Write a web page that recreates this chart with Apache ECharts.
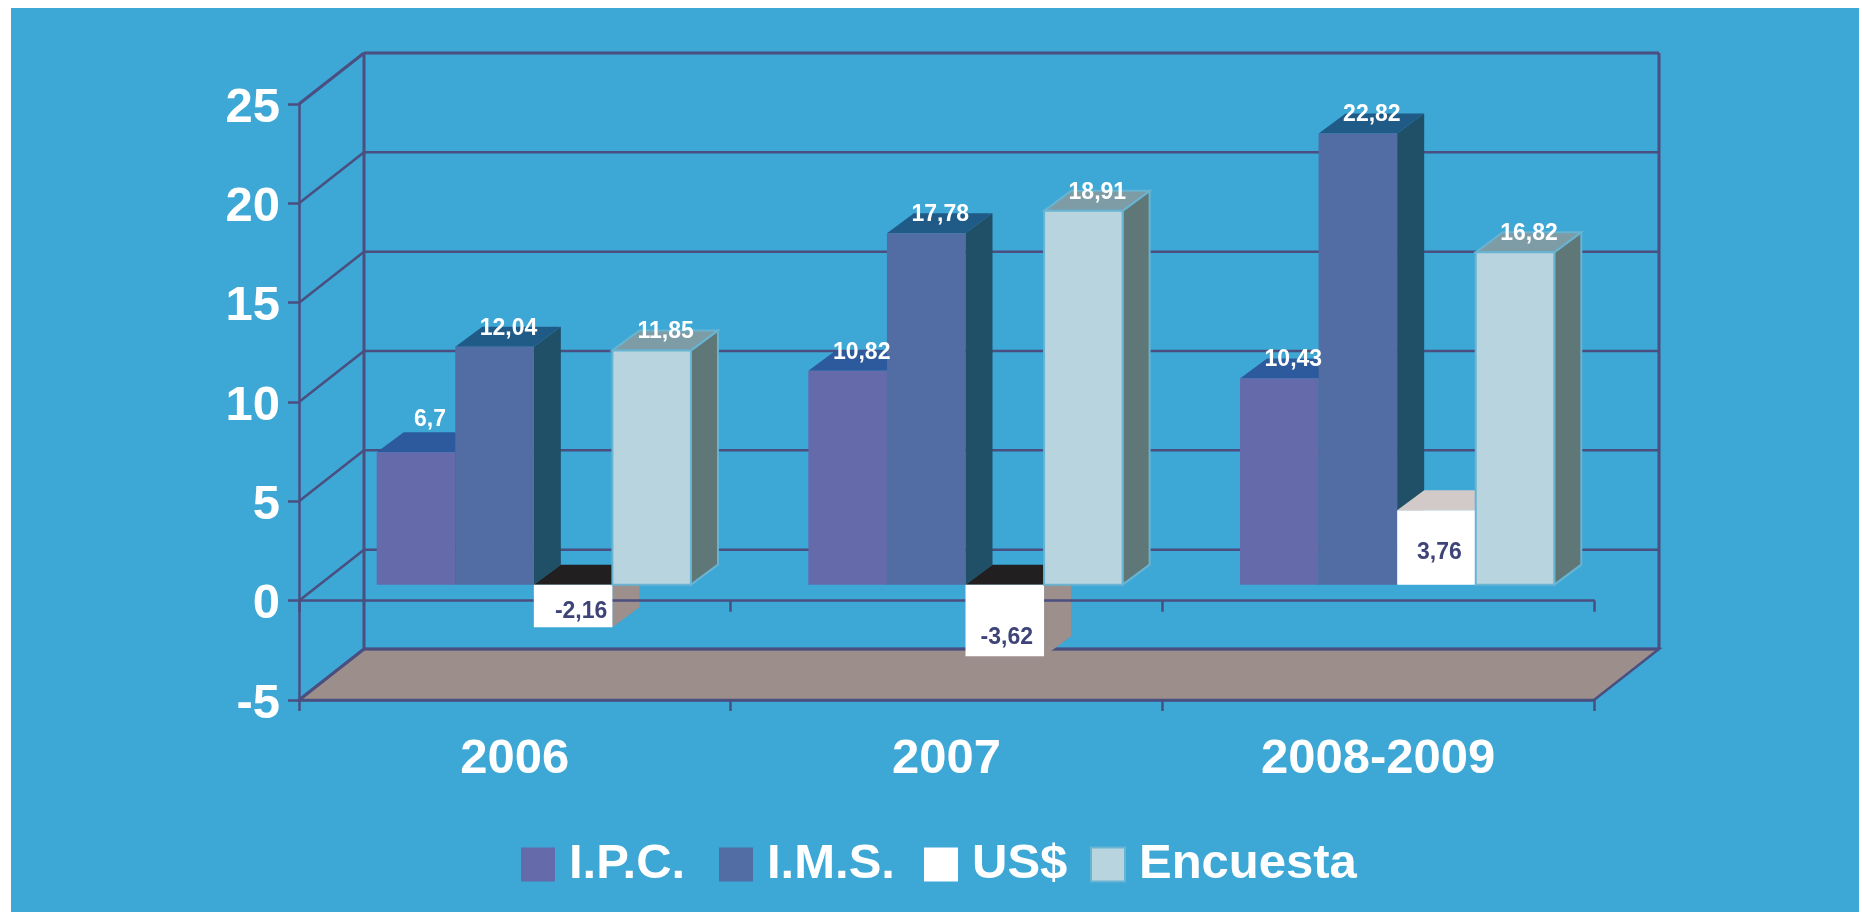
<!DOCTYPE html>
<html>
<head>
<meta charset="utf-8">
<script src="https://cdn.jsdelivr.net/npm/echarts@6/dist/echarts.min.js"></script>
<style>
  html, body { margin: 0; height: 100%; background: #fff; overflow: hidden; }
  #panel { position: absolute; left: 11px; top: 8px; right: 3px; bottom: 0; background: #3da7d6; }
  #chart { position: absolute; left: 0; top: 0; width: 1862px; height: 912px; }
</style>
</head>
<body>
<div id="panel"></div>
<div id="chart"></div>
<script>
const categories = ['2006', '2007', '2008-2009'];
const seriesNames = ['I.P.C.', 'I.M.S.', 'US$', 'Encuesta'];
const ipc = [6.7, 10.82, 10.43];
const ims = [12.04, 17.78, 22.82];
const usd = [-2.16, -3.62, 3.76];
const encuesta = [11.85, 18.91, 16.82];
const yTicks = [-5, 0, 5, 10, 15, 20, 25];

const lineColor = '#4a4f80';
const font = 'Liberation Sans, Arial, sans-serif';

// fake 3d: offsets of the back wall, the bar plane and the bar depth
const wallDx = 65, wallDy = -51;
const planeDx = 19, planeDy = -16, planeScale = 0.995;
const barDx = 27, barDy = -20;
const barShare = 0.182;

const faces = [
  { front: '#656aab', top: '#2c5a9c', side: '#1f5068' },
  { front: '#516da3', top: '#205b88', side: '#1f5068' },
  { front: '#ffffff', top: '#d2cac8', topNeg: '#211f1f', side: '#9d8f8b' },
  { front: '#b8d4df', top: '#7d9ca6', side: '#5f7776', stroke: '#68b4d2' }
];
const allValues = [ipc, ims, usd, encuesta];
// hand placed labels inside the white bars, same as the original
const usdLabelShift = [[8, -16], [2, -19], [3, 5]];
const legendLefts = [521, 719, 924, 1090];

function barBox(idx, api) {
  const cat = api.value(0);
  const val = api.value(1);
  const base = api.coord([cat, 0]);
  const tip = api.coord([cat, val]);
  const w = api.size([1, 0])[0] * barShare;
  const x0 = base[0] + planeDx + (idx - 2) * w;
  const y0 = base[1] + planeDy;
  const y1 = y0 + (tip[1] - base[1]) * planeScale;
  return { cat: cat, x0: x0, x1: x0 + w, w: w, top: Math.min(y0, y1), bot: Math.max(y0, y1), val: val };
}

function sideShape(b) {
  return [[b.x1, b.top], [b.x1 + barDx, b.top + barDy], [b.x1 + barDx, b.bot + barDy], [b.x1, b.bot]];
}

function renderBar(idx) {
  return function (params, api) {
    const b = barBox(idx, api);
    const f = faces[idx];
    const stroke = f.stroke ? { stroke: f.stroke, lineWidth: 2 } : {};
    const topFill = b.val < 0 && f.topNeg ? f.topNeg : f.top;
    const children = [];
    if (idx !== 2) {
      children.push({ type: 'polygon', shape: { points: sideShape(b) }, style: Object.assign({ fill: f.side }, stroke) });
    }
    children.push({
      type: 'polygon',
      shape: { points: [[b.x0, b.top], [b.x0 + barDx, b.top + barDy], [b.x1 + barDx, b.top + barDy], [b.x1, b.top]] },
      style: Object.assign({ fill: topFill }, stroke)
    });
    children.push({
      type: 'rect',
      shape: { x: b.x0, y: b.top, width: b.w, height: b.bot - b.top },
      style: Object.assign({ fill: f.front }, stroke)
    });
    return { type: 'group', children: children };
  };
}

// side of the US$ bars sits behind the zero axis line
function renderUsdSide(params, api) {
  return { type: 'polygon', shape: { points: sideShape(barBox(2, api)) }, style: { fill: faces[2].side } };
}

function renderLabel(idx) {
  return function (params, api) {
    const b = barBox(idx, api);
    let x = (b.x0 + b.x1) / 2 + 14;
    let y = b.top - 18.5;
    let fill = '#ffffff';
    if (idx === 2) {
      const shift = usdLabelShift[b.cat];
      fill = '#3f4478';
      x = (b.x0 + b.x1) / 2 + shift[0];
      y = (b.val < 0 ? b.bot : (b.top + b.bot) / 2) + shift[1];
    }
    if (b.val === 6.7) y = b.top - 33;
    return {
      type: 'text',
      style: {
        text: String(b.val).replace('.', ','),
        x: x, y: y, fill: fill,
        font: 'bold 23px ' + font,
        align: 'center', verticalAlign: 'middle'
      }
    };
  };
}

function renderWallLine(params, api) {
  const v = api.value(0);
  const first = api.coord([0, v]);
  const last = api.coord([categories.length - 1, v]);
  const band = api.size([1, 0])[0];
  const left = first[0] - band / 2;
  const right = last[0] + band / 2;
  const y = first[1];
  const isEdge = v === yTicks[0] || v === yTicks[yTicks.length - 1];
  const style = { stroke: lineColor, lineWidth: isEdge ? 3 : 2.5, fill: 'none' };
  const children = [
    { type: 'line', shape: { x1: left, y1: y, x2: left + wallDx, y2: y + wallDy }, style: style },
    { type: 'line', shape: { x1: left + wallDx, y1: y + wallDy, x2: right + wallDx, y2: y + wallDy }, style: style },
    // value labels sit a little under their tick, the axis label can't be nudged
    {
      type: 'text',
      style: {
        text: String(v), x: left - 19, y: y + 4, fill: '#ffffff',
        font: 'bold 49px ' + font, align: 'right', verticalAlign: 'middle'
      }
    }
  ];
  if (v === yTicks[0]) {
    children.unshift({
      type: 'polygon',
      shape: { points: [[left, y], [left + wallDx, y + wallDy], [right + wallDx, y + wallDy], [right, y]] },
      style: { fill: '#9c8f8b', stroke: lineColor, lineWidth: 2.5 }
    });
    const topY = api.coord([0, yTicks[yTicks.length - 1]])[1] + wallDy;
    children.push(
      { type: 'line', shape: { x1: left + wallDx, y1: y + wallDy, x2: left + wallDx, y2: topY }, style: { stroke: lineColor, lineWidth: 3 } },
      { type: 'line', shape: { x1: right + wallDx, y1: y + wallDy, x2: right + wallDx, y2: topY }, style: { stroke: lineColor, lineWidth: 3 } }
    );
  }
  return { type: 'group', children: children };
}

const series = [
  {
    type: 'custom', z: -2, silent: true, xAxisIndex: 0,
    data: yTicks.map(v => [v]),
    encode: { y: 0 },
    renderItem: renderWallLine
  },
  {
    type: 'custom', z: -1, silent: true, xAxisIndex: 0,
    data: usd.map((v, i) => [i, v]),
    renderItem: renderUsdSide
  }
];

seriesNames.forEach((name, idx) => {
  series.push({
    name: name,
    type: 'custom',
    z: 3 + idx,
    xAxisIndex: 0,
    itemStyle: { color: faces[idx].front },
    data: allValues[idx].map((v, i) => [i, v]),
    renderItem: renderBar(idx)
  });
  series.push({
    type: 'custom',
    z: 10,
    xAxisIndex: 0,
    silent: true,
    data: allValues[idx].map((v, i) => [i, v]),
    renderItem: renderLabel(idx)
  });
});

const axisLine = { lineStyle: { color: lineColor, width: 2.5 } };
const axisTick = { show: true, length: 11, lineStyle: { color: lineColor, width: 2.5 } };
const chart = echarts.init(document.getElementById('chart'));
chart.setOption({
  backgroundColor: 'transparent',
  animation: false,
  grid: { left: 299, right: 268, top: 104, bottom: 212 },
  // one legend per entry, the gaps in the original are not even
  legend: seriesNames.map((name, idx) => ({
    left: legendLefts[idx],
    top: 840,
    padding: 0,
    itemWidth: 34,
    itemHeight: 34,
    icon: 'rect',
    selectedMode: false,
    textStyle: { color: '#fff', fontSize: 49, fontWeight: 'bold', fontFamily: font, padding: [2, 0, 0, 9] },
    data: [{
      name: name,
      itemStyle: faces[idx].stroke ? { color: faces[idx].front, borderColor: faces[idx].stroke, borderWidth: 2 } : { color: faces[idx].front }
    }]
  })),
  xAxis: [
    {
      type: 'category',
      data: categories,
      axisLine: Object.assign({ onZero: true }, axisLine),
      axisTick: axisTick,
      axisLabel: { show: false },
      splitLine: { show: false }
    },
    {
      type: 'category',
      data: categories,
      position: 'bottom',
      axisLine: Object.assign({ onZero: false }, axisLine),
      axisTick: axisTick,
      axisLabel: { color: '#fff', fontSize: 49, fontWeight: 'bold', fontFamily: font, margin: 35 },
      splitLine: { show: false }
    }
  ],
  yAxis: {
    type: 'value',
    min: -5,
    max: 25,
    interval: 5,
    axisLine: Object.assign({ show: true }, axisLine),
    axisTick: axisTick,
    axisLabel: { show: false },
    splitLine: { show: false }
  },
  series: series
});
</script>
</body>
</html>
